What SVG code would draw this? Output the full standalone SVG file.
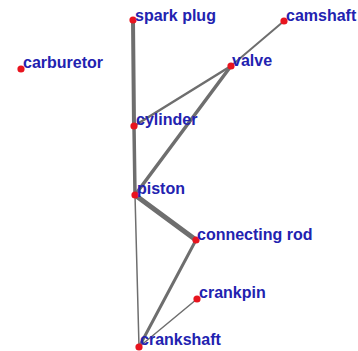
<svg xmlns="http://www.w3.org/2000/svg" width="358" height="351" viewBox="0 0 358 351">
<style>
.e{stroke:#6e6e6e;stroke-linecap:round;fill:none}
.d{fill:#e8141e}
.t{font-family:"Liberation Sans",Arial,sans-serif;font-weight:bold;font-size:16px;fill:#2222b0}
</style>
<rect width="358" height="351" fill="#ffffff"/>
<g id="connectors">
<line class="e" x1="133" y1="20" x2="134" y2="126" stroke-width="4"/>
<line class="e" x1="134" y1="126" x2="135" y2="195" stroke-width="3.5"/>
<line class="e" x1="134" y1="126" x2="231" y2="66" stroke-width="2.5"/>
<line class="e" x1="135" y1="195" x2="231" y2="66" stroke-width="3.5"/>
<line class="e" x1="231" y1="66" x2="284" y2="21" stroke-width="2"/>
<line class="e" x1="135" y1="195" x2="196" y2="240" stroke-width="5"/>
<line class="e" x1="135" y1="195" x2="139" y2="347" stroke-width="1.5"/>
<line class="e" x1="196" y1="240" x2="139" y2="347" stroke-width="3"/>
<line class="e" x1="197" y1="299" x2="139" y2="347" stroke-width="1.5"/>
</g>
<g id="spark-plug"><circle class="d" cx="133" cy="20" r="3.6"/><text class="t" x="135" y="21">spark plug</text></g>
<g id="camshaft"><circle class="d" cx="284" cy="21" r="3.6"/><text class="t" x="286" y="21">camshaft</text></g>
<g id="carburetor"><circle class="d" cx="21" cy="69" r="3.6"/><text class="t" x="23" y="68">carburetor</text></g>
<g id="valve"><circle class="d" cx="231" cy="66" r="3.6"/><text class="t" x="232" y="66">valve</text></g>
<g id="cylinder"><circle class="d" cx="134" cy="126" r="3.6"/><text class="t" x="136" y="125">cylinder</text></g>
<g id="piston"><circle class="d" cx="135" cy="195" r="3.6"/><text class="t" x="137" y="194">piston</text></g>
<g id="connecting-rod"><circle class="d" cx="196" cy="240" r="3.6"/><text class="t" x="197" y="240">connecting rod</text></g>
<g id="crankpin"><circle class="d" cx="197" cy="299" r="3.6"/><text class="t" x="199" y="298">crankpin</text></g>
<g id="crankshaft"><circle class="d" cx="139" cy="347" r="3.6"/><text class="t" x="140" y="345">crankshaft</text></g>
</svg>
